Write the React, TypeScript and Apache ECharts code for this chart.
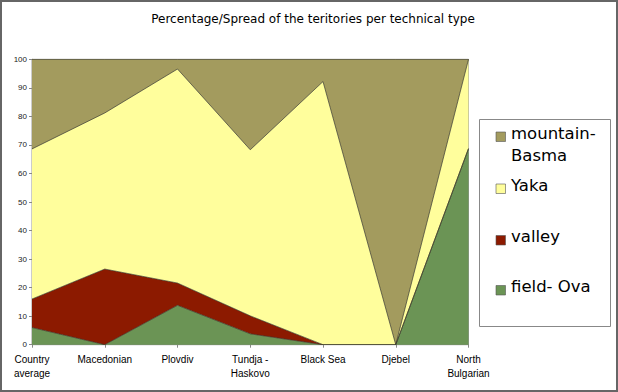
import React, { useEffect, useRef } from "react";
import * as echarts from "echarts";

const categories = [
  "Country\naverage",
  "Macedonian",
  "Plovdiv",
  "Tundja -\nHaskovo",
  "Black Sea",
  "Djebel",
  "North\nBulgarian",
];
const fieldOva = [6, 0, 13.8, 3.8, 0, 0, 68.7];
const valley = [10, 26.5, 7.8, 6.3, 0, 0, 0];
const yaka = [52.6, 54.7, 75, 58.2, 92.2, 0, 31.3];
const mountainBasma = [31.4, 18.8, 3.4, 31.7, 7.8, 100, 0];
const yTicks = { min: 0, max: 100, interval: 10 };

const seriesNames = ["field- Ova", "valley", "Yaka", "mountain-\nBasma"];
const seriesData = [fieldOva, valley, yaka, mountainBasma];
const colors = ["#6B9455", "#8C1A00", "#FFFE9C", "#A39B5E"];

export default function App() {
  const ref = useRef<HTMLDivElement>(null);
  useEffect(() => {
    if (!ref.current) return;
    const chart = echarts.init(ref.current, null, { renderer: "svg" });
    const legendYs = [133, 185, 236.5, 286.5];
    const legendOrder = [3, 2, 1, 0];
    const legendGraphics: any[] = [
      {
        type: "rect",
        shape: { x: 479.5, y: 119.5, width: 131, height: 207 },
        style: { fill: "#fff", stroke: "#888", lineWidth: 1 },
      },
    ];
    legendOrder.forEach((si, i) => {
      const cy = legendYs[i];
      legendGraphics.push({
        type: "rect",
        shape: { x: 496, y: cy - 1, width: 9.5, height: 9.5 },
        style: { fill: colors[si], stroke: "#555", lineWidth: 0.6 },
      });
      legendGraphics.push({
        type: "text",
        x: 511,
        y: cy - 11,
        style: {
          text: seriesNames[si],
          fill: "#000",
          font: "16.5px 'DejaVu Sans'",
          lineHeight: 22,
          textVerticalAlign: "top",
        },
      });
    });
    chart.setOption({
      animation: false,
      backgroundColor: "#fff",
      title: {
        text: "Percentage/Spread of the teritories per technical type",
        left: 308,
        textAlign: "center",
        top: 8,
        textStyle: {
          fontFamily: "DejaVu Sans",
          fontSize: 12,
          fontWeight: "normal",
          color: "#000",
        },
      },
      grid: {
        left: 32,
        right: 149.5,
        top: 59.3,
        bottom: 47.3,
        show: true,
        borderColor: "#999",
        borderWidth: 1,
        backgroundColor: "transparent",
      },
      xAxis: {
        type: "category",
        data: categories,
        boundaryGap: false,
        axisLine: { lineStyle: { color: "#888" } },
        axisTick: { show: true, length: 3, lineStyle: { color: "#888" } },
        axisLabel: {
          interval: 0,
          margin: 8,
          fontFamily: "Liberation Sans",
          fontSize: 10,
          lineHeight: 14,
          color: "#000",
        },
      },
      yAxis: {
        type: "value",
        min: yTicks.min,
        max: yTicks.max,
        interval: yTicks.interval,
        splitLine: { show: false },
        axisLine: { show: true, lineStyle: { color: "#888" } },
        axisTick: { show: true, length: 3, lineStyle: { color: "#888" } },
        axisLabel: {
          margin: 5,
          fontFamily: "Liberation Sans",
          fontSize: 8,
          color: "#222",
        },
      },
      series: seriesData.map((d, i) => ({
        name: seriesNames[i],
        type: "line",
        stack: "total",
        data: d,
        symbol: "none",
        itemStyle: { color: colors[i] },
        lineStyle: { color: "#3a3a2a", width: 0.7 },
        areaStyle: { color: colors[i], opacity: 1 },
      })),
      graphic: [
        {
          type: "rect",
          shape: { x: 1, y: 1, width: 616, height: 390 },
          style: { fill: "none", stroke: "#666", lineWidth: 2 },
          z: 100,
        },
        ...legendGraphics,
      ],
    });
    return () => chart.dispose();
  }, []);
  return (
    <div
      ref={ref}
      style={{ position: "fixed", left: 0, top: 0, width: 618, height: 392 }}
    />
  );
}
